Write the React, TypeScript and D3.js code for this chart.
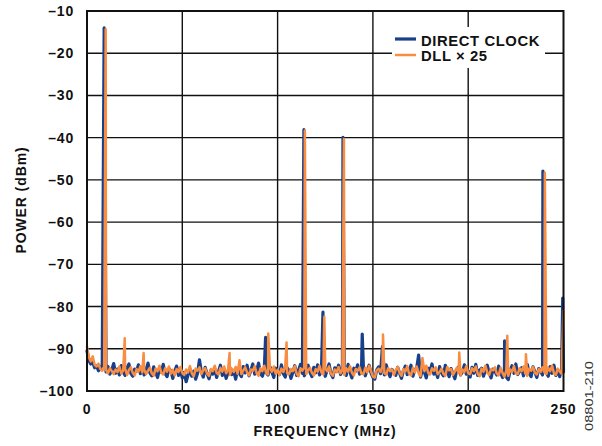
import React from "react";
import * as d3 from "d3";

// Frequency axis (MHz) and power axis (dBm)
const xTicks = [0, 50, 100, 150, 200, 250];
const yTicks = [-10, -20, -30, -40, -50, -60, -70, -80, -90, -100];

// Noise floor, one value per MHz (0..250)
const directNoise = [
  -90.5, -92.8, -93.6, -93.2, -94.5, -94.0, -95.2, -94.6, -93.8, -94.5,
  -95.5, -94.2, -96.0, -95.0, -93.5, -95.8, -94.8, -96.2, -94.0, -95.5,
  -96.3, -94.5, -93.6, -95.8, -96.5, -94.8, -95.3, -93.8, -95.9, -94.6,
  -96.2, -95.0, -93.4, -95.7, -96.4, -94.3, -95.5, -96.8, -94.9, -95.6,
  -93.7, -95.9, -96.6, -94.7, -95.2, -97.0, -95.4, -94.1, -96.3, -95.1,
  -96.9, -95.6, -97.8, -96.2, -94.8, -96.5, -95.3, -97.2, -95.8, -92.6,
  -95.5, -96.7, -94.4, -95.9, -97.1, -95.2, -96.0, -94.6, -96.8, -95.4,
  -93.9, -96.3, -95.0, -97.0, -95.7, -94.5, -96.1, -95.3, -97.2, -94.8,
  -95.9, -96.6, -94.2, -95.7, -93.9, -96.4, -95.1, -93.6, -96.0, -95.2,
  -93.4, -95.8, -96.5, -94.9, -95.6, -96.2, -94.3, -95.5, -96.8, -94.6,
  -95.3, -96.1, -93.8, -95.9, -96.7, -94.5, -95.2, -97.0, -95.6, -94.0,
  -96.3, -95.1, -93.7, -95.8, -96.4, -95.0, -93.9, -95.6, -96.6, -94.4,
  -95.7, -93.8, -96.2, -95.3, -94.9, -96.5, -95.0, -93.6, -95.9, -96.8,
  -94.5, -95.4, -93.9, -96.1, -95.2, -94.8, -96.3, -93.7, -95.6, -96.9,
  -94.6, -95.3, -93.8, -96.0, -95.5, -94.2, -96.4, -95.1, -93.9, -95.7,
  -96.8, -97.2, -95.0, -94.3, -95.9, -94.7, -96.2, -93.8, -95.4, -96.6,
  -94.9, -95.6, -96.3, -94.4, -95.8, -97.0, -95.2, -94.1, -96.1, -95.4,
  -93.9, -96.5, -95.0, -94.5, -91.5, -96.7, -94.8, -95.5, -96.9, -94.6,
  -95.3, -93.6, -96.0, -95.4, -96.8, -94.2, -95.7, -96.4, -93.9, -95.2,
  -96.6, -94.7, -95.9, -97.1, -95.0, -94.3, -96.2, -95.5, -93.8, -96.0,
  -95.3, -96.7, -94.4, -95.8, -93.7, -96.3, -95.1, -94.6, -96.5, -95.2,
  -93.9, -95.7, -96.9, -94.8, -95.4, -96.2, -94.1, -95.6, -96.8, -95.0,
  -96.7, -97.3, -95.2, -94.0, -95.8, -93.6, -96.1, -95.3, -94.5, -96.4,
  -95.0, -93.7, -95.9, -96.6, -94.3, -95.5, -96.8, -94.7, -95.4, -96.2,
  -94.9, -95.7, -96.5, -94.2, -95.8, -93.9, -96.3, -95.1, -96.6, -94.8,
  -95.5,
];

const dllNoise = [
  -89.5, -92.0, -93.0, -91.8, -93.8, -94.2, -93.5, -94.8, -95.2, -94.4,
  -95.0, -95.8, -94.6, -95.3, -96.0, -94.9, -95.5, -94.2, -95.9, -95.1,
  -94.7, -96.2, -95.0, -94.4, -95.7, -96.3, -94.8, -95.4, -94.1, -95.6,
  -94.9, -96.0, -95.2, -94.5, -95.8, -96.4, -94.7, -95.3, -94.0, -95.7,
  -96.1, -94.6, -95.4, -94.2, -95.9, -95.0, -96.3, -94.8, -95.5, -94.3,
  -95.7, -96.2, -94.9, -95.6, -94.1, -95.8, -96.5, -94.7, -95.2, -94.4,
  -96.0, -95.1, -94.6, -95.9, -96.4, -94.8, -95.3, -94.0, -95.7, -96.1,
  -94.5, -95.4, -94.2, -95.8, -95.0, -96.2, -94.7, -95.5, -94.3, -95.9,
  -92.7, -96.0, -95.1, -94.4, -95.6, -96.3, -94.9, -95.2, -94.1, -95.8,
  -96.4, -94.6, -95.3, -94.0, -95.7, -96.1, -94.5, -95.4, -94.2, -95.9,
  -95.0, -96.2, -94.7, -95.5, -94.3, -95.8, -96.0, -94.8, -95.3, -94.1,
  -95.9, -96.5, -94.6, -95.2, -94.4, -96.0, -95.1, -94.5, -95.7, -96.3,
  -94.8, -95.4, -94.0, -95.6, -96.1, -94.7, -95.3, -94.2, -95.9, -96.4,
  -94.9, -95.5, -94.3, -95.8, -95.0, -96.2, -94.6, -95.4, -94.1, -95.7,
  -96.3, -94.8, -95.2, -94.4, -95.9, -96.0, -94.5, -95.6, -94.0, -95.3,
  -96.6, -96.8, -95.1, -94.7, -95.5, -94.2, -95.8, -96.1, -94.6, -95.3,
  -94.9, -96.2, -95.0, -94.3, -95.7, -96.4, -94.8, -95.4, -94.1, -95.9,
  -96.3, -94.5, -95.6, -94.2, -95.8, -96.5, -92.2, -95.3, -94.0, -95.7,
  -96.1, -94.6, -95.2, -94.4, -96.0, -95.5, -94.7, -95.9, -96.4, -94.3,
  -95.1, -94.8, -96.2, -95.4, -94.5, -95.7, -96.3, -94.9, -95.5, -94.1,
  -95.8, -96.0, -94.6, -95.3, -94.2, -95.9, -96.5, -94.7, -95.4, -94.0,
  -95.6, -96.2, -94.8, -95.1, -94.4, -95.9, -96.3, -94.5, -95.7, -96.6,
  -95.2, -96.4, -94.9, -95.5, -94.1, -95.8, -96.0, -94.6, -95.3, -94.2,
  -95.9, -96.4, -94.7, -95.2, -94.3, -95.7, -96.1, -94.8, -95.5, -94.4,
  -95.6, -96.0, -94.5, -95.3, -94.0, -95.8, -96.2, -94.7, -95.4, -95.9,
  -95.2,
];

// Spurs: [frequency MHz, power dBm]
const directSpurs: [number, number][] = [
  [9.0, -14.0], [93.7, -87.3], [113.8, -38.1], [123.8, -81.3], [134.3, -39.9],
  [144.4, -86.5], [155.0, -89.5], [219.1, -88.1], [239.2, -47.9], [249.6, -78.0],
];
const dllSpurs: [number, number][] = [
  [9.8, -14.3], [19.8, -87.5], [29.7, -91.0], [74.8, -91.0], [95.1, -86.4],
  [104.7, -88.5], [114.3, -38.3], [124.5, -82.4], [134.8, -40.3], [155.3, -86.6],
  [195.3, -90.9], [220.5, -86.9], [230.3, -91.3], [240.2, -48.3], [250, -81.0],
];

const seriesNames = ["DIRECT CLOCK", "DLL \u00d7 25"];
const seriesColors = ["#173f8a", "#f98d42"];

function buildSeries(noise: number[], spurs: [number, number][]) {
  const pts = new Map<number, number>();
  noise.forEach((v, i) => pts.set(i, v));
  spurs.forEach(([f, v]) => pts.set(f, v));
  return Array.from(pts.entries())
    .map(([f, v]) => ({ f, v }))
    .sort((a, b) => a.f - b.f);
}

export default function App() {
  const W = 602, H = 446;
  const x = d3.scaleLinear().domain([0, 250]).range([87, 563.5]);
  const y = d3.scaleLinear().domain([-100, -10]).range([391, 11]);
  const line = d3
    .line<{ f: number; v: number }>()
    .x((d) => x(d.f))
    .y((d) => y(d.v));
  const series = [buildSeries(directNoise, directSpurs), buildSeries(dllNoise, dllSpurs)];
  const font = "'Liberation Sans', Arial, Helvetica, sans-serif";
  const widths = [3.2, 2.5];

  return (
    <svg
      width={W}
      height={H}
      style={{ position: "absolute", left: 0, top: 0, background: "#fff" }}
      fontFamily={font}
    >
      <rect x={0} y={0} width={W} height={H} fill="#fff" />
      {/* grid */}
      {xTicks.slice(1, -1).map((t) => (
        <line key={"gx" + t} x1={x(t)} x2={x(t)} y1={y(-10)} y2={y(-100)} stroke="#111" strokeWidth={1.4} />
      ))}
      {yTicks.slice(1, -1).map((t) => (
        <line key={"gy" + t} x1={x(0)} x2={x(250)} y1={y(t)} y2={y(t)} stroke="#111" strokeWidth={1.4} />
      ))}
      {/* legend background */}
      <rect x={392} y={27} width={153} height={41} fill="#fff" />
      {/* series */}
      {series.map((s, i) => (
        <path
          key={i}
          d={line(s) || ""}
          fill="none"
          stroke={seriesColors[i]}
          strokeWidth={widths[i]}
          strokeLinejoin="round"
          strokeLinecap="round"
        />
      ))}
      {/* frame */}
      <rect x={x(0)} y={y(-10)} width={x(250) - x(0)} height={y(-100) - y(-10)} fill="none" stroke="#111" strokeWidth={2} />
      {/* y tick labels */}
      {yTicks.map((t) => (
        <text key={"yl" + t} x={74} y={y(t) + 5} textAnchor="end" fontSize={14} fontWeight="bold" letterSpacing={0.8} fill="#111">
          {"\u2013" + Math.abs(t)}
        </text>
      ))}
      {/* x tick labels */}
      {xTicks.map((t) => (
        <text key={"xl" + t} x={x(t)} y={413.5} textAnchor="middle" fontSize={14} fontWeight="bold" letterSpacing={0.8} fill="#111">
          {t}
        </text>
      ))}
      {/* axis titles */}
      <text x={325} y={436} textAnchor="middle" fontSize={14} fontWeight="bold" letterSpacing={0.9} fill="#111">
        FREQUENCY (MHz)
      </text>
      <text transform="translate(26,200) rotate(-90)" textAnchor="middle" fontSize={14} fontWeight="bold" letterSpacing={0.9} fill="#111">
        POWER (dBm)
      </text>
      {/* legend */}
      {seriesNames.map((n, i) => (
        <g key={n}>
          <line x1={395} x2={416} y1={39 + i * 16} y2={39 + i * 16} stroke={seriesColors[i]} strokeWidth={widths[i]} />
          <text x={421} y={46 + i * 14.5} fontSize={14.8} fontWeight="bold" letterSpacing={0.6} fill="#111">
            {n}
          </text>
        </g>
      ))}
      {/* figure id */}
      <text transform="translate(593,396) rotate(-90)" textAnchor="middle" fontSize={10} fill="#333" textLength={70} lengthAdjust="spacingAndGlyphs">
        08801-210
      </text>
    </svg>
  );
}
